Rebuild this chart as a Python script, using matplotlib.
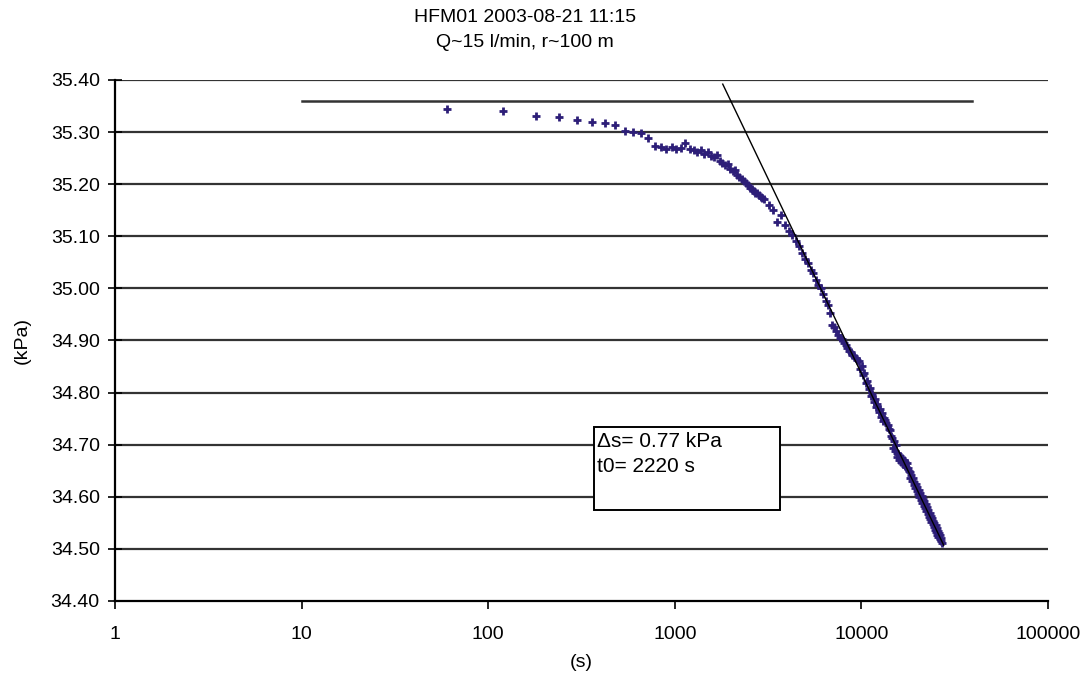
import numpy as np
import matplotlib
matplotlib.use("Agg")
import matplotlib.pyplot as plt
from matplotlib.patches import Rectangle

plt.rcParams["font.family"] = ["Liberation Sans", "DejaVu Sans"]

# Drawdown record, observation section HFM01 (time since start in s, pressure in kPa)
TIME_S = [
    60, 120, 180, 240, 300, 360, 420, 480, 540, 600,
    660, 720, 780, 840, 900, 960, 1020, 1080, 1140, 1200,
    1260, 1320, 1380, 1440, 1500, 1560, 1620, 1680, 1740, 1800,
    1860, 1920, 1980, 2040, 2100, 2160, 2220, 2280, 2340, 2400,
    2460, 2520, 2580, 2640, 2700, 2760, 2820, 2880, 2940,
    3000, 3180, 3360, 3540, 3720, 3900, 4080, 4260, 4440, 4620,
    4800, 4980, 5160, 5340, 5520, 5700, 5880, 6060, 6240, 6420,
    6600, 6780, 6960, 7140, 7320, 7500, 7680, 7860, 8040, 8220,
    8400, 8580, 8760, 8940, 9120, 9300, 9480, 9660, 9840, 10020,
    10200, 10380, 10560, 10740, 10920, 11100, 11280, 11460, 11640, 11820,
    12000, 12180, 12360, 12540, 12720, 12900, 13080, 13260, 13440, 13620,
    13800, 13980, 14160, 14340, 14520, 14700, 14880, 15060, 15240, 15420,
    15600, 15780, 15960, 16140, 16320, 16500, 16680, 16860, 17040, 17220,
    17400, 17580, 17760, 17940, 18120, 18300, 18480, 18660, 18840, 19020,
    19200, 19380, 19560, 19740, 19920, 20100, 20280, 20460, 20640, 20820,
    21000, 21180, 21360, 21540, 21720, 21900, 22080, 22260, 22440, 22620,
    22800, 22980, 23160, 23340, 23520, 23700, 23880, 24060, 24240, 24420,
    24600, 24780, 24960, 25140, 25320, 25500, 25680, 25860, 26040, 26220,
    26400, 26580, 26760, 26940,
]
PRESSURE_KPA = [
    35.344, 35.340, 35.330, 35.328, 35.323, 35.320, 35.317, 35.313, 35.302, 35.300,
    35.299, 35.289, 35.273, 35.271, 35.268, 35.272, 35.267, 35.270, 35.279, 35.268,
    35.266, 35.262, 35.265, 35.258, 35.261, 35.255, 35.252, 35.256, 35.244, 35.240,
    35.236, 35.238, 35.230, 35.226, 35.228, 35.217, 35.214, 35.209, 35.206, 35.203,
    35.198, 35.192, 35.190, 35.187, 35.184, 35.183, 35.179, 35.176, 35.174,
    35.171, 35.160, 35.150, 35.128, 35.140, 35.121, 35.110, 35.102, 35.090, 35.081,
    35.068, 35.056, 35.048, 35.035, 35.029, 35.016, 35.006, 35.000, 34.990, 34.975,
    34.968, 34.952, 34.930, 34.925, 34.918, 34.910, 34.905, 34.902, 34.896, 34.892,
    34.886, 34.880, 34.877, 34.873, 34.870, 34.866, 34.862, 34.861, 34.846, 34.851,
    34.833, 34.838, 34.818, 34.822, 34.806, 34.809, 34.793, 34.797, 34.782, 34.788,
    34.772, 34.779, 34.763, 34.769, 34.754, 34.760, 34.745, 34.752, 34.747, 34.742,
    34.738, 34.731, 34.728, 34.716, 34.712, 34.694, 34.708, 34.688, 34.700, 34.684,
    34.676, 34.683, 34.670, 34.679, 34.667, 34.674, 34.662, 34.670, 34.660, 34.667,
    34.657, 34.664, 34.655, 34.650, 34.648, 34.637, 34.642, 34.630, 34.636, 34.622,
    34.628, 34.617, 34.624, 34.611, 34.618, 34.605, 34.613, 34.600, 34.607, 34.594,
    34.601, 34.588, 34.596, 34.583, 34.591, 34.578, 34.586, 34.572, 34.580, 34.567,
    34.575, 34.562, 34.569, 34.557, 34.564, 34.552, 34.559, 34.547, 34.554, 34.542,
    34.550, 34.537, 34.545, 34.532, 34.540, 34.527, 34.535, 34.523, 34.531, 34.519,
    34.526, 34.515, 34.521, 34.512,
]

# Static pressure level and semi-log straight-line fit
STATIC_T = [10, 39000]
STATIC_P = [35.36, 35.36]
FIT_T = [1806, 27600]
FIT_P = [35.392, 34.507]

DELTA_S = 0.77
T0 = 2220

FS = 14

fig = plt.figure(figsize=(10.89, 6.80), dpi=100)
ax = fig.add_axes([0.1056, 0.1162, 0.8568, 0.7662])

yticks = np.round(np.arange(34.40, 35.401, 0.10), 2)
for y in yticks[1:]:
    ax.axhline(y, color="#333333", lw=1.6, zorder=1)

ax.plot(STATIC_T, STATIC_P, color="#333333", lw=1.8, zorder=2)
ax.plot(FIT_T, FIT_P, color="black", lw=1.0, zorder=4)
ax.plot(TIME_S, PRESSURE_KPA, ls="none", marker="+", ms=6, mew=2.0,
        color="#2d1e78", zorder=3)

ax.set_xscale("log")
ax.set_xlim(1, 100000)
ax.set_ylim(34.40, 35.40)
ax.set_xticks([1, 10, 100, 1000, 10000, 100000])
ax.set_xticklabels(["1", "10", "100", "1000", "10000", "100000"])
ax.xaxis.set_minor_locator(matplotlib.ticker.NullLocator())
ax.set_yticks(yticks)
ax.set_yticklabels([f"{v:.2f}" for v in yticks])

for side in ("top", "right"):
    ax.spines[side].set_visible(False)
for side in ("left", "bottom"):
    ax.spines[side].set_linewidth(1.6)
    ax.spines[side].set_color("black")
ax.tick_params(axis="y", direction="inout", length=10, width=1.2,
               labelsize=FS, pad=6)
ax.tick_params(axis="x", direction="out", length=6, width=1.2,
               labelsize=FS, pad=12)

ax.set_xlabel("(s)", fontsize=FS, labelpad=8)
ax.set_ylabel("(kPa)", fontsize=FS, labelpad=14)
fig.text(0.482, 0.975, "HFM01 2003-08-21 11:15", ha="center", va="center",
         fontsize=FS)
fig.text(0.482, 0.938, "Q~15 l/min, r~100 m", ha="center", va="center",
         fontsize=FS)

# annotation box with the fit parameters
ax.add_patch(Rectangle((0.5134, 0.1747), 0.1994, 0.1593, transform=ax.transAxes,
                       facecolor="white", edgecolor="black", lw=1.4, zorder=5))
ax.text(0.517, 0.325, f"\u0394s= {DELTA_S:.2f} kPa\nt0= {T0} s",
        transform=ax.transAxes, ha="left", va="top", fontsize=15,
        linespacing=1.45, zorder=6)

fig.savefig("out.png", dpi=100)
